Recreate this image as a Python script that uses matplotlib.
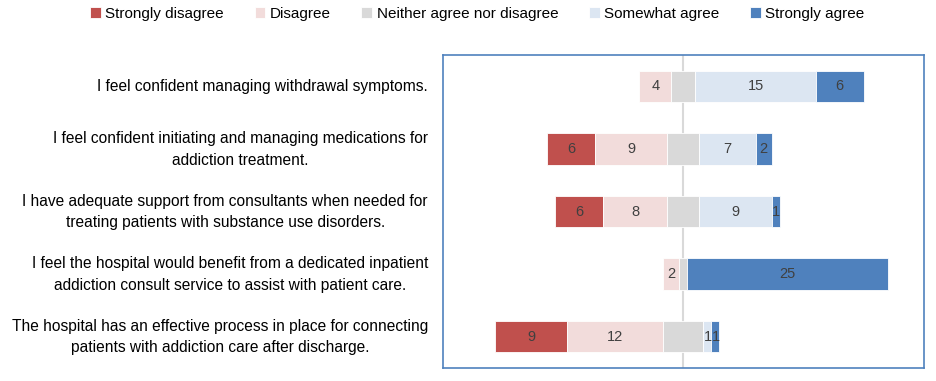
import numpy as np
import matplotlib.pyplot as plt

statements = [
    "I feel confident managing withdrawal symptoms.",
    "I feel confident initiating and managing medications for\naddiction treatment.",
    "I have adequate support from consultants when needed for\ntreating patients with substance use disorders.",
    "I feel the hospital would benefit from a dedicated inpatient\naddiction consult service to assist with patient care.",
    "The hospital has an effective process in place for connecting\npatients with addiction care after discharge.",
]
categories = ["Strongly disagree", "Disagree", "Neither agree nor disagree",
              "Somewhat agree", "Strongly agree"]
strongly_disagree = [0, 6, 6, 0, 9]
disagree = [4, 9, 8, 2, 12]
neutral = [3, 4, 4, 1, 5]
somewhat_agree = [15, 7, 9, 0, 1]
strongly_agree = [6, 2, 1, 25, 1]

colors = ["#C0504D", "#F2DCDB", "#D9D9D9", "#DCE6F2", "#4F81BD"]

plt.rcParams['font.family'] = ['Liberation Sans', 'DejaVu Sans']

fig = plt.figure(figsize=(9.36, 3.81), dpi=100)
ax = fig.add_axes([0.4733, 0.034, 0.5137, 0.8216])

y = np.arange(len(statements))
sd = np.array(strongly_disagree)
d = np.array(disagree)
n = np.array(neutral)
sw = np.array(somewhat_agree)
sa = np.array(strongly_agree)

# neutral centred on zero, disagree to the left, agree to the right
starts = [-n / 2 - d - sd, -n / 2 - d, -n / 2, n / 2, n / 2 + sw]
vals = [sd, d, n, sw, sa]

for k in range(5):
    ax.barh(y, vals[k], left=starts[k], height=0.5, color=colors[k],
            edgecolor='white', linewidth=0.6, label=categories[k], zorder=3)
    if k == 2:
        continue
    for i in range(len(y)):
        if vals[k][i] > 0:
            ax.text(starts[k][i] + vals[k][i] / 2, y[i], str(vals[k][i]),
                    ha='center', va='center', fontsize=10.5, color='#404040', zorder=4)

ax.axvline(0, color='#D9D9D9', linewidth=1.5, zorder=2)
ax.set_xlim(-30, 30)
ax.set_ylim(4.5, -0.5)
ax.set_xticks([])
ax.set_yticks([])
for s in ax.spines.values():
    s.set_color('#4F81BD')
    s.set_linewidth(1.2)

for i, txt in enumerate(statements):
    fig.text(428 / 936, 1 - (87 + 62.5 * i) / 381, txt, ha='right', va='center',
             multialignment='center', fontsize=11.2, color='black', linespacing=1.55)

handles, labels = ax.get_legend_handles_labels()
fig.legend(handles, labels, loc='center', bbox_to_anchor=(0.51, 1 - 14 / 381), ncol=5,
           frameon=False, fontsize=11, handlelength=0.7, handleheight=0.7,
           handletextpad=0.3, columnspacing=2.0)

fig.savefig('out.png', dpi=100)
